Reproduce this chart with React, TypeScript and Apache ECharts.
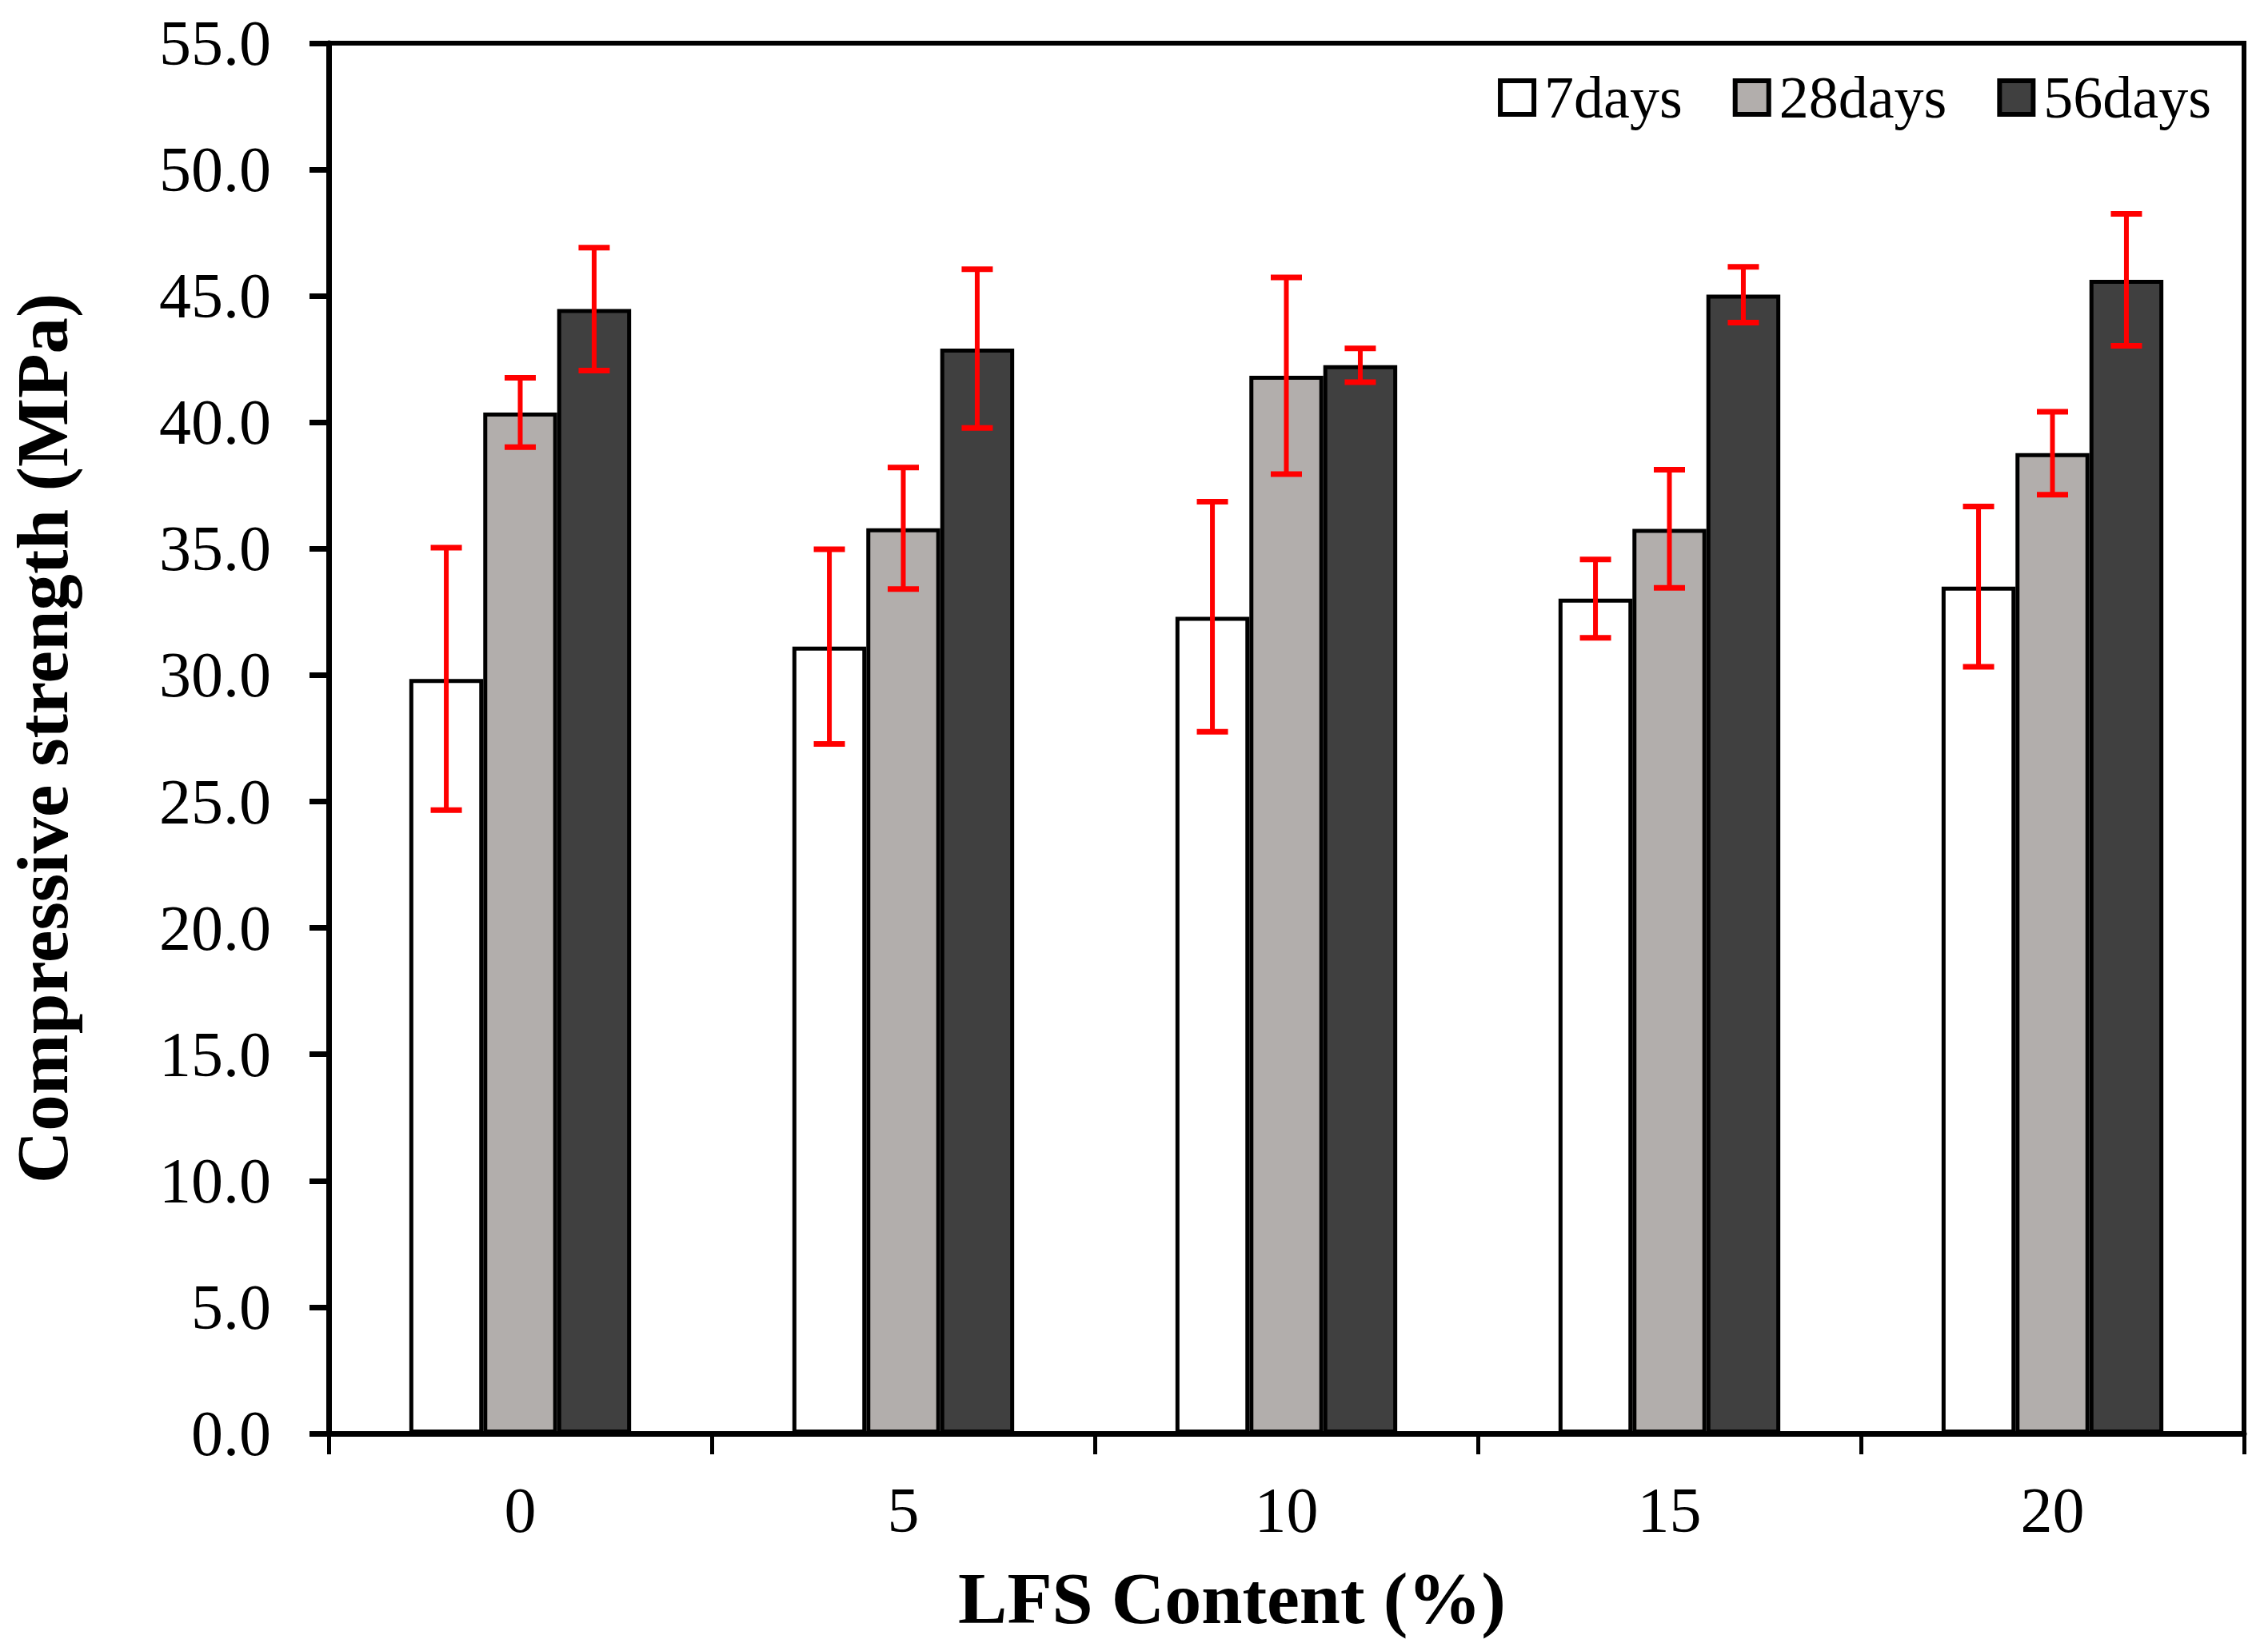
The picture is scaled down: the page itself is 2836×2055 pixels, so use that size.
import React, { useEffect, useRef } from "react";
import * as echarts from "echarts";

const categories = ["0", "5", "10", "15", "20"];
const seriesNames = ["7days", "28days", "56days"];
const seriesColors = ["#ffffff", "#b2aeac", "#404040"];

const values7 = [29.85, 31.13, 32.31, 33.03, 33.5];
const values28 = [40.39, 35.81, 41.84, 35.79, 38.78];
const values56 = [44.48, 42.92, 42.26, 45.05, 45.64];

const err7 = [5.19, 3.85, 4.55, 1.55, 3.17];
const err28 = [1.37, 2.4, 3.89, 2.34, 1.64];
const err56 = [2.43, 3.14, 0.67, 1.1, 2.61];

const BAR_FRAC = 0.193;

export default function App() {
  const ref = useRef<HTMLDivElement>(null);

  useEffect(() => {
    const chart = echarts.init(ref.current as HTMLDivElement, null, { renderer: "svg" });
    const font = "'Liberation Serif', 'Times New Roman', serif";
    const allValues = [values7, values28, values56];
    const allErrs = [err7, err28, err56];

    const errData: number[][] = [];
    allValues.forEach((vals, s) => {
      vals.forEach((v, i) => {
        errData.push([i, s, v - allErrs[s][i], v + allErrs[s][i]]);
      });
    });

    const barSeries = seriesNames.map((name, s) => ({
      name,
      type: "bar",
      data: allValues[s],
      barWidth: "19.3%",
      barGap: "0%",
      itemStyle: { color: seriesColors[s], borderColor: "#000", borderWidth: 5 },
      z: 2,
    }));

    chart.setOption({
      animation: false,
      backgroundColor: "#ffffff",
      grid: {
        left: 410,
        right: 30,
        top: 54,
        bottom: 262,
        show: true,
        borderColor: "#000",
        borderWidth: 6,
        backgroundColor: "transparent",
      },
      legend: {
        data: seriesNames,
        right: 66,
        top: 80,
        itemWidth: 42,
        itemHeight: 42,
        itemGap: 63,
        icon: "rect",
        itemStyle: { borderColor: "#000", borderWidth: 6 },
        textStyle: { fontSize: 74, fontFamily: font, color: "#000", padding: [0, 0, 0, 8] },
      },
      xAxis: {
        type: "category",
        data: categories,
        axisLine: { show: true, lineStyle: { color: "#000", width: 7 } },
        axisTick: { show: true, length: 26, lineStyle: { color: "#000", width: 5 } },
        axisLabel: { fontSize: 80, fontFamily: font, color: "#000", margin: 56 },
        splitLine: { show: false },
        name: "LFS Content (%)",
        nameLocation: "middle",
        nameGap: 160,
        nameTextStyle: {
          fontSize: 92,
          fontWeight: "bold",
          fontFamily: font,
          color: "#000",
          padding: [0, 136, 0, 0],
        },
      },
      yAxis: {
        type: "value",
        min: 0,
        max: 55,
        interval: 5,
        axisLine: { show: true, lineStyle: { color: "#000", width: 7 } },
        axisTick: { show: true, length: 24, lineStyle: { color: "#000", width: 7 } },
        axisLabel: {
          fontSize: 80,
          fontFamily: font,
          color: "#000",
          margin: 72,
          formatter: (v: number) => v.toFixed(1),
        },
        splitLine: { show: false },
        name: "Compressive strength (MPa)",
        nameLocation: "middle",
        nameGap: 312,
        nameTextStyle: { fontSize: 91, fontWeight: "bold", fontFamily: font, color: "#000" },
      },
      series: [
        ...barSeries,
        {
          name: "error",
          type: "custom",
          data: errData,
          encode: { x: 0, y: [2, 3] },
          z: 10,
          silent: true,
          renderItem: (params: any, api: any) => {
            const s = api.value(1);
            const lo = api.coord([api.value(0), api.value(2)]);
            const hi = api.coord([api.value(0), api.value(3)]);
            const bw = api.size([1, 0])[0];
            const x = lo[0] + (s - 1) * bw * BAR_FRAC;
            const half = 19.5;
            return {
              type: "group",
              children: [
                {
                  type: "line",
                  shape: { x1: x, y1: hi[1], x2: x, y2: lo[1] },
                  style: { stroke: "#ff0000", lineWidth: 6 },
                },
                {
                  type: "line",
                  shape: { x1: x - half, y1: hi[1], x2: x + half, y2: hi[1] },
                  style: { stroke: "#ff0000", lineWidth: 7 },
                },
                {
                  type: "line",
                  shape: { x1: x - half, y1: lo[1], x2: x + half, y2: lo[1] },
                  style: { stroke: "#ff0000", lineWidth: 7 },
                },
              ],
            };
          },
        },
      ],
    });

    return () => chart.dispose();
  }, []);

  return (
    <div
      ref={ref}
      style={{ position: "fixed", left: 0, top: 0, width: 2836, height: 2055, background: "#fff" }}
    />
  );
}
